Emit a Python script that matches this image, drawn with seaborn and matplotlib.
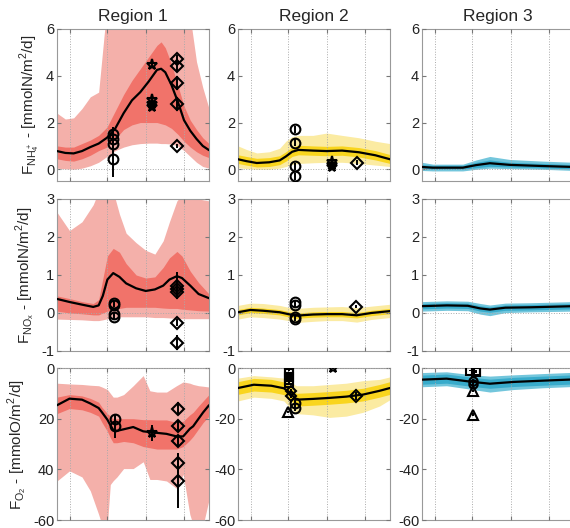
import numpy as np
import matplotlib
matplotlib.use("Agg")
import matplotlib.pyplot as plt
import seaborn as sns

# ---- model envelopes (day of year) ----
# Region 1, NH4+
nh4_r1_day = [0, 20, 40, 60, 80, 100, 120, 140, 160, 180, 200, 220, 240, 250, 260, 275, 290, 305, 320, 335, 350, 365]
nh4_r1_mean = [0.78, 0.70, 0.68, 0.78, 0.95, 1.1, 1.35, 1.75, 2.4, 2.95, 3.3, 3.75, 4.25, 4.3, 4.15, 3.6, 2.9, 2.1, 1.65, 1.3, 1.0, 0.82]
nh4_r1_dhi = [1.0, 0.95, 0.95, 1.1, 1.25, 1.45, 1.8, 2.5, 3.2, 3.8, 4.3, 4.8, 5.3, 5.45, 5.2, 4.5, 3.6, 2.7, 2.1, 1.7, 1.35, 1.1]
nh4_r1_dlo = [0.45, 0.38, 0.35, 0.45, 0.6, 0.8, 0.95, 1.3, 1.7, 1.9, 2.0, 2.0, 2.0, 1.95, 1.9, 1.75, 1.5, 1.2, 0.95, 0.75, 0.6, 0.5]
nh4_r1_lhi = [2.4, 2.15, 2.2, 2.6, 3.1, 3.3, 7.0, 7.0, 7.0, 7.0, 7.0, 7.0, 7.0, 7.0, 7.0, 7.0, 7.0, 7.0, 6.5, 4.6, 3.5, 2.6]
nh4_r1_llo = [0.05, 0.02, 0.0, 0.05, 0.15, 0.3, 0.55, 0.8, 0.95, 1.05, 1.1, 1.12, 1.12, 1.1, 1.1, 1.08, 1.0, 0.8, 0.55, 0.3, 0.12, 0.05]

# Region 1, NOx
nox_r1_day = [0, 30, 60, 87, 100, 110, 121, 135, 150, 166, 190, 213, 235, 255, 270, 288, 300, 320, 340, 365]
nox_r1_mean = [0.37, 0.29, 0.22, 0.16, 0.2, 0.45, 0.88, 1.05, 0.95, 0.78, 0.65, 0.58, 0.62, 0.72, 0.88, 0.97, 0.92, 0.72, 0.5, 0.39]
nox_r1_dhi = [0.45, 0.38, 0.3, 0.25, 0.35, 0.9, 1.5, 1.7, 1.6, 1.3, 1.0, 0.92, 0.95, 1.2, 1.45, 1.62, 1.5, 1.1, 0.8, 0.5]
nox_r1_dlo = [0.05, 0.0, -0.02, -0.05, -0.05, 0.0, 0.05, 0.1, 0.12, 0.15, 0.15, 0.15, 0.15, 0.13, 0.12, 0.12, 0.1, 0.08, 0.06, 0.05]
nox_r1_lhi = [2.65, 2.17, 2.4, 2.85, 3.2, 3.3, 3.3, 3.2, 2.6, 2.1, 1.85, 1.65, 1.55, 1.9, 2.4, 2.95, 3.1, 3.0, 3.0, 2.95]
nox_r1_llo = [-0.16, -0.17, -0.18, -0.2, -0.2, -0.18, -0.15, -0.12, -0.1, -0.1, -0.1, -0.1, -0.12, -0.12, -0.13, -0.14, -0.15, -0.15, -0.15, -0.15]

# Region 1, O2
o2_r1_day = [0, 30, 60, 80, 100, 108, 121, 128, 135, 144, 160, 183, 207, 223, 240, 263, 287, 303, 319, 327, 340, 351, 365]
o2_r1_mean = [-14.7, -12.1, -12.5, -14.0, -15.8, -17.5, -20.4, -22.5, -24.4, -24.8, -24.2, -23.3, -25.0, -25.3, -25.6, -26.0, -27.0, -27.0, -24.0, -23.0, -20.0, -17.5, -14.7]
o2_r1_dhi = [-11.5, -10.5, -11.0, -12.0, -13.5, -15.5, -18.0, -19.0, -20.0, -20.0, -20.0, -20.0, -20.4, -20.4, -20.5, -20.5, -21.5, -21.0, -18.5, -17.5, -15.0, -13.0, -10.5]
o2_r1_dlo = [-18.0, -16.0, -16.5, -17.5, -19.0, -21.5, -25.0, -27.5, -29.5, -29.5, -29.0, -29.5, -31.0, -31.5, -32.0, -32.0, -32.0, -31.0, -28.5, -27.0, -24.0, -21.5, -19.0]
o2_r1_lhi = [-6.0, -6.3, -6.5, -6.8, -7.0, -7.5, -8.5, -10.0, -11.5, -11.5, -10.5, -7.0, -3.0, -9.0, -9.5, -9.5, -7.0, -5.5, -6.0, -6.5, -7.0, -7.2, -7.5]
o2_r1_llo = [-44.6, -40.6, -43.0, -48.5, -57.8, -62.0, -62.0, -46.0, -44.5, -43.0, -39.7, -39.7, -37.0, -44.0, -44.0, -44.6, -47.5, -42.0, -57.8, -62.0, -62.0, -62.0, -52.0]

# Region 2, NH4+
nh4_r2_day = [0, 20, 45, 75, 100, 115, 130, 145, 180, 213, 250, 290, 330, 365]
nh4_r2_mean = [0.43, 0.35, 0.27, 0.3, 0.38, 0.55, 0.75, 0.83, 0.8, 0.78, 0.8, 0.73, 0.6, 0.43]
nh4_r2_dhi = [0.62, 0.55, 0.47, 0.5, 0.58, 0.75, 0.95, 1.03, 1.0, 0.98, 1.0, 0.93, 0.8, 0.63]
nh4_r2_dlo = [0.25, 0.18, 0.1, 0.12, 0.2, 0.35, 0.55, 0.62, 0.6, 0.58, 0.6, 0.53, 0.4, 0.25]
nh4_r2_lhi = [1.0, 0.85, 0.7, 0.75, 0.9, 1.2, 1.4, 1.45, 1.45, 1.55, 1.45, 1.35, 1.2, 1.1]
nh4_r2_llo = [0.07, 0.03, 0.0, 0.0, 0.05, 0.12, 0.2, 0.25, 0.28, 0.3, 0.3, 0.25, 0.18, 0.12]

# Region 2, NOx
nox_r2_day = [0, 30, 60, 100, 121, 140, 180, 213, 250, 285, 320, 365]
nox_r2_mean = [0.02, 0.08, 0.06, 0.02, -0.03, -0.07, -0.04, -0.03, -0.03, -0.06, 0.0, 0.05]
nox_r2_dhi = [0.09, 0.15, 0.13, 0.09, 0.04, 0.0, 0.03, 0.04, 0.04, 0.01, 0.07, 0.12]
nox_r2_dlo = [-0.05, 0.01, -0.01, -0.05, -0.1, -0.14, -0.11, -0.1, -0.1, -0.13, -0.07, -0.02]
nox_r2_lhi = [0.2, 0.26, 0.25, 0.2, 0.15, 0.12, 0.15, 0.16, 0.17, 0.14, 0.18, 0.23]
nox_r2_llo = [-0.16, -0.1, -0.12, -0.16, -0.2, -0.25, -0.22, -0.2, -0.2, -0.24, -0.17, -0.12]

# Region 2, O2
o2_r2_day = [0, 38, 80, 110, 121, 140, 180, 220, 260, 300, 340, 365]
o2_r2_mean = [-7.9, -6.6, -7.0, -8.0, -9.2, -12.5, -12.2, -11.8, -11.3, -10.5, -9.0, -7.9]
o2_r2_dhi = [-5.4, -4.1, -4.5, -5.5, -6.7, -10.0, -9.7, -9.3, -8.8, -8.0, -6.5, -5.4]
o2_r2_dlo = [-10.4, -9.1, -9.5, -10.5, -11.7, -15.0, -14.7, -14.3, -13.8, -13.0, -11.5, -10.4]
o2_r2_lhi = [-4.0, -3.0, -3.5, -4.0, -5.0, -7.0, -7.0, -6.5, -6.0, -5.0, -4.5, -3.5]
o2_r2_llo = [-13.0, -11.5, -12.0, -13.0, -15.0, -18.0, -18.5, -19.5, -19.0, -17.5, -15.0, -12.5]

# Region 3, NH4+
nh4_r3_day = [0, 26, 98, 130, 163, 211, 290, 365]
nh4_r3_mean = [0.1, 0.07, 0.07, 0.18, 0.26, 0.19, 0.14, 0.1]
nh4_r3_dhi = [0.2, 0.17, 0.17, 0.3, 0.4, 0.3, 0.25, 0.2]
nh4_r3_dlo = [0.02, 0.0, 0.0, 0.07, 0.13, 0.1, 0.06, 0.02]
nh4_r3_lhi = [0.3, 0.22, 0.22, 0.4, 0.55, 0.42, 0.35, 0.3]
nh4_r3_llo = [-0.05, -0.07, -0.07, 0.0, 0.05, 0.03, 0.0, -0.05]

# Region 3, NOx
nox_r3_day = [0, 60, 110, 140, 163, 200, 260, 365]
nox_r3_mean = [0.18, 0.2, 0.19, 0.12, 0.09, 0.14, 0.15, 0.18]
nox_r3_dhi = [0.25, 0.27, 0.26, 0.19, 0.16, 0.21, 0.22, 0.25]
nox_r3_dlo = [0.11, 0.13, 0.12, 0.05, 0.02, 0.07, 0.08, 0.11]
nox_r3_lhi = [0.3, 0.32, 0.31, 0.25, 0.21, 0.26, 0.27, 0.3]
nox_r3_llo = [0.05, 0.07, 0.06, -0.03, -0.07, 0.01, 0.03, 0.05]

# Region 3, O2
o2_r3_day = [0, 59, 122, 163, 220, 290, 365]
o2_r3_mean = [-4.6, -4.2, -5.5, -6.2, -5.5, -5.0, -4.5]
o2_r3_dhi = [-2.8, -2.4, -3.7, -4.4, -3.7, -3.2, -2.7]
o2_r3_dlo = [-6.4, -6.0, -7.3, -8.0, -7.3, -6.8, -6.3]
o2_r3_lhi = [-1.8, -1.5, -2.7, -3.2, -2.7, -2.2, -1.7]
o2_r3_llo = [-7.4, -7.0, -8.5, -9.5, -8.5, -7.8, -7.3]

# ---- observations: (day, values, errors) ----
nh4_r1_circle = (135, [1.5, 1.3, 1.1, 0.43], [0.3, 0.25, 0.2, 0.75])
nh4_r1_star = (228, [4.45, 2.95, 2.8, 2.65], [0.1, 0.15, 0.1, 0.1])
nh4_r1_diamond = (287, [4.7, 4.4, 3.7, 2.8, 1.0], [0.2, 0.2, 0.3, 0.3, 0.1])
nox_r1_circle = (137, [0.27, 0.2, -0.03, -0.1], [0.05, 0.05, 0.05, 0.05])
nox_r1_diamond = (288, [0.72, 0.62, 0.55, -0.25, -0.78], [0.35, 0.1, 0.1, 0.1, 0.2])
o2_r1_circle = (139, [-20.0, -23.0], [1.0, 4.5])
o2_r1_star = (228, [-25.8], [3.2])
o2_r1_diamond = (290, [-16.0, -23.0, -29.0, -37.6, -44.6], [2.5, 2.0, 2.0, 4.0, 10.5])

nh4_r2_circle = (137, [1.71, 1.14, 0.14, -0.3], [0.15, 0.15, 0.15, 0.15])
nh4_r2_star = (225, [0.3, 0.2, 0.12], [0.1, 0.1, 0.1])
nh4_r2_diamond = (285, [0.29], [0.1])
nox_r2_circle = (137, [0.3, 0.22, -0.1, -0.15], [0.05, 0.05, 0.05, 0.05])
nox_r2_diamond = (283, [0.17], [0.05])
o2_r2_square = (122, [-0.8, -2.1, -3.4, -4.7, -6.0], [0.5, 0.5, 0.5, 0.5, 0.5])
o2_r2_triangle = (120, [-17.4], [0.5])
o2_r2_circle = (137, [-13.8, -15.8], [1.0, 1.0])
o2_r2_diamond = (128, [-9.0, -11.0], [0.8, 0.8])
o2_r2_star = (227, [0.0], [0.3])
o2_r2_diamond2 = (283, [-11.0], [1.5])

o2_r3_square = (115, [-1.0], [0.3])
o2_r3_square2 = (130, [-1.0, -1.5], [0.3, 0.3])
o2_r3_triangle = (122, [-9.0, -18.4], [0.5, 0.5])
o2_r3_circle = (122, [-5.0, -6.5], [0.5, 0.5])

regions = ['Region 1', 'Region 2', 'Region 3']
month_ticks = [31, 121, 213, 305]
light_cols = ['#F4B0AA', '#FBEBA2', '#73C6DC']
dark_cols = ['#F1736A', '#F9D51E', '#38ABCB']

ylabels = [r'F$_{\mathregular{NH_4^+}}$ - [mmolN/m$^{\mathregular{2}}$/d]',
           r'F$_{\mathregular{NO_x}}$ - [mmolN/m$^{\mathregular{2}}$/d]',
           r'F$_{\mathregular{O_2}}$ - [mmolO/m$^{\mathregular{2}}$/d]']
ylims = [(-0.5, 6), (-1, 3), (-60, 0)]
yticks = [[0, 2, 4, 6], [-1, 0, 1, 2, 3], [-60, -40, -20, 0]]

sns.set_style('ticks')
plt.rcParams['font.family'] = ['Liberation Sans', 'DejaVu Sans']
plt.rcParams['axes.unicode_minus'] = False

envelopes = [
    [(nh4_r1_day, nh4_r1_mean, nh4_r1_dlo, nh4_r1_dhi, nh4_r1_llo, nh4_r1_lhi),
     (nh4_r2_day, nh4_r2_mean, nh4_r2_dlo, nh4_r2_dhi, nh4_r2_llo, nh4_r2_lhi),
     (nh4_r3_day, nh4_r3_mean, nh4_r3_dlo, nh4_r3_dhi, nh4_r3_llo, nh4_r3_lhi)],
    [(nox_r1_day, nox_r1_mean, nox_r1_dlo, nox_r1_dhi, nox_r1_llo, nox_r1_lhi),
     (nox_r2_day, nox_r2_mean, nox_r2_dlo, nox_r2_dhi, nox_r2_llo, nox_r2_lhi),
     (nox_r3_day, nox_r3_mean, nox_r3_dlo, nox_r3_dhi, nox_r3_llo, nox_r3_lhi)],
    [(o2_r1_day, o2_r1_mean, o2_r1_dlo, o2_r1_dhi, o2_r1_llo, o2_r1_lhi),
     (o2_r2_day, o2_r2_mean, o2_r2_dlo, o2_r2_dhi, o2_r2_llo, o2_r2_lhi),
     (o2_r3_day, o2_r3_mean, o2_r3_dlo, o2_r3_dhi, o2_r3_llo, o2_r3_lhi)],
]

observations = {
    (0, 0): [(nh4_r1_circle, 'o', 7), (nh4_r1_star, '*', 8), (nh4_r1_diamond, 'D', 6)],
    (1, 0): [(nox_r1_circle, 'o', 7), (nox_r1_diamond, 'D', 6)],
    (2, 0): [(o2_r1_circle, 'o', 7), (o2_r1_star, '*', 8), (o2_r1_diamond, 'D', 6)],
    (0, 1): [(nh4_r2_circle, 'o', 7), (nh4_r2_star, '*', 8), (nh4_r2_diamond, 'D', 6)],
    (1, 1): [(nox_r2_circle, 'o', 7), (nox_r2_diamond, 'D', 6)],
    (2, 1): [(o2_r2_square, 's', 6), (o2_r2_triangle, '^', 7), (o2_r2_circle, 'o', 7),
             (o2_r2_diamond, 'D', 5), (o2_r2_star, '*', 8), (o2_r2_diamond2, 'D', 6)],
    (2, 2): [(o2_r3_square, 's', 6), (o2_r3_square2, 's', 6), (o2_r3_triangle, '^', 7),
             (o2_r3_circle, 'o', 6)],
}

W, H = 570, 528
fig = plt.figure(figsize=(W / 100, H / 100), dpi=100)
col_left = [57, 238, 422]
row_top = [29, 199, 368]
size = 152

for r in range(3):
    for c in range(3):
        ax = fig.add_axes([col_left[c] / W, 1 - (row_top[r] + size) / H, size / W, size / H])
        day, mean, dlo, dhi, llo, lhi = envelopes[r][c]
        ax.fill_between(day, llo, lhi, color=light_cols[c], lw=0, zorder=1)
        ax.fill_between(day, dlo, dhi, color=dark_cols[c], lw=0, zorder=2)
        sns.lineplot(x=day, y=mean, ax=ax, color='black', lw=1.6, zorder=4)

        for (d, vals, errs), mk, ms in observations.get((r, c), []):
            ax.errorbar([d] * len(vals), vals, yerr=errs, fmt=mk, ms=ms, mfc='none',
                        mec='black', mew=1.5, ecolor='black', elinewidth=1.4,
                        capsize=0, zorder=6)

        ax.set_xlim(0, 365)
        ax.set_ylim(*ylims[r])
        ax.set_xticks(month_ticks)
        ax.set_xticklabels([])
        ax.set_yticks(yticks[r])
        if r == 2 and c == 0:
            ax.set_yticklabels(['-60', '40', '20', '0'])
        ax.xaxis.grid(True, ls=':', color='#AAAAAA', lw=0.7, zorder=3)
        ax.axhline(0, ls=':', color='#AAAAAA', lw=0.7, zorder=3)
        ax.set_axisbelow(False)
        ax.tick_params(direction='in', length=3, top=True, right=True,
                       labelsize=10.5, color='#777777', labelcolor='#222222', pad=2)
        for sp in ax.spines.values():
            sp.set_color('#999999')
            sp.set_linewidth(0.8)
        if r == 0:
            ax.set_title(regions[c], fontsize=12.5, pad=6)
        if c == 0:
            ax.set_ylabel(ylabels[r], fontsize=11, labelpad=3)

plt.savefig('out.png', dpi=100)
